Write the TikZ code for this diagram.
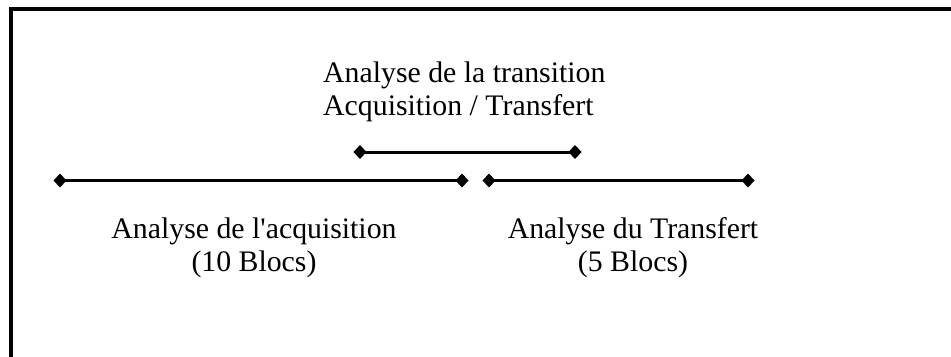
\documentclass[tikz,border=0pt]{standalone}
\usepackage{fontspec}
\setmainfont{Liberation Serif}
\usetikzlibrary{arrows.meta}

\begin{document}
\begin{tikzpicture}[x=1bp,y=-1bp,
  legende/.style={font=\fontsize{29.8bp}{33bp}\selectfont,inner sep=0pt},
  segment/.style={line width=3bp,{Diamond[length=13bp,width=14bp]}-{Diamond[length=13bp,width=14bp]}}]
\useasboundingbox (0,0) rectangle (951,356);
\draw[line width=4bp] (11.3,360) |- (955,8.7);
\coordinate (trA) at (353.5,152);
\coordinate (trB) at (581.5,152);
\coordinate (acqA) at (53.5,180.5);
\coordinate (acqB) at (468.5,180.5);
\coordinate (trfA) at (482.5,180.5);
\coordinate (trfB) at (754.5,180.5);
\draw[segment] (trA) -- (trB);
\draw[segment] (acqA) -- (acqB);
\draw[segment] (trfA) -- (trfB);
% base = baseline of the last line
\node[legende,align=left,anchor=base west] (transition) at (323,115)
  {Analyse de la transition\\Acquisition / Transfert};
\node[legende,align=center,anchor=base] (acquisition) at (254,271)
  {Analyse de l\textquotesingle acquisition\\(10 Blocs)};
\node[legende,align=center,anchor=base] (transfert) at (633,271)
  {Analyse du Transfert\\(5 Blocs)};
\end{tikzpicture}
\end{document}
